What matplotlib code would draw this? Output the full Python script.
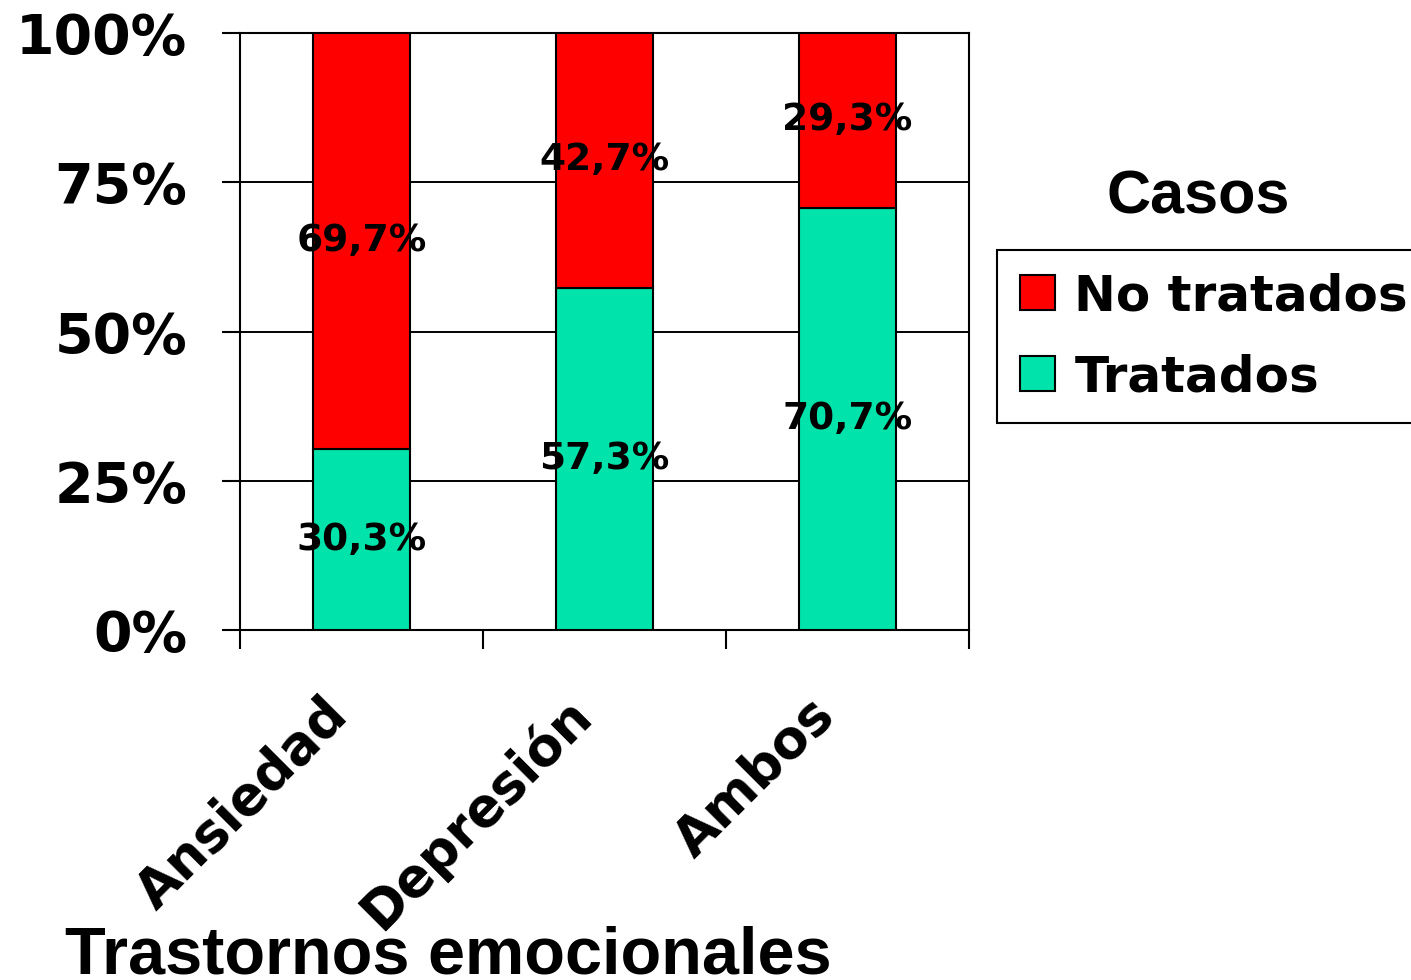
import matplotlib.pyplot as plt
import matplotlib.transforms as mtransforms
import numpy as np

# Percentage of cases treated / not treated per disorder
categories = ['Ansiedad', 'Depresión', 'Ambos']
tratados = [30.3, 57.3, 70.7]
no_tratados = [69.7, 42.7, 29.3]
y_ticks = [0, 25, 50, 75, 100]

red = '#FF0000'
green = '#00E3AA'

fig = plt.figure(figsize=(14.11, 9.8), dpi=100)
ax = fig.add_axes([240 / 1411, 1 - 630 / 980, 729 / 1411, 597 / 980])

x = np.arange(len(categories)) + 0.5
width = 0.4

b1 = ax.bar(x, tratados, width, color=green, edgecolor='black', linewidth=1.5,
            label='Tratados', zorder=3)
b2 = ax.bar(x, no_tratados, width, bottom=tratados, color=red, edgecolor='black',
            linewidth=1.5, label='No tratados', zorder=3)

# value labels centred in each segment
for xi, t, n in zip(x, tratados, no_tratados):
    ax.text(xi, t / 2, f"{t:.1f}%".replace('.', ','), ha='center', va='center',
            fontsize=27, fontweight='bold', zorder=4)
    ax.text(xi, t + n / 2, f"{n:.1f}%".replace('.', ','), ha='center', va='center',
            fontsize=27, fontweight='bold', zorder=4)

ax.set_xlim(0, len(categories))
ax.set_ylim(0, 100)

ax.set_yticks(y_ticks)
ax.set_yticklabels([f"{v}%" for v in y_ticks], fontsize=40, fontweight='bold')
ax.tick_params(axis='y', length=13, width=1.5, pad=25)
ax.yaxis.grid(True, color='black', linewidth=1.4, zorder=0)

# tick marks on category boundaries, labels at the centres
ax.set_xticks(np.arange(len(categories) + 1))
ax.set_xticklabels([])
ax.tick_params(axis='x', which='major', length=14, width=1.5)
ax.set_xticks(x, minor=True)
ax.set_xticklabels(categories, minor=True, rotation=45, ha='right', va='center',
                   rotation_mode='anchor', fontsize=38, fontweight='bold')
ax.tick_params(axis='x', which='minor', length=0, pad=55)
shift = mtransforms.ScaledTranslation(-22 / 100, 0, fig.dpi_scale_trans)
for lbl in ax.get_xticklabels(minor=True):
    lbl.set_transform(lbl.get_transform() + shift)

for s in ax.spines.values():
    s.set_linewidth(1.5)

leg = fig.legend(handles=[b2, b1], labels=['No tratados', 'Tratados'],
                 loc='upper left', bbox_to_anchor=(997 / 1411, 1 - 250 / 980),
                 borderaxespad=0, prop={'weight': 'bold', 'size': 36},
                 handlelength=0.7, handleheight=0.7, handletextpad=0.4,
                 borderpad=0.45, labelspacing=0.65, fancybox=False,
                 edgecolor='black', framealpha=1)
leg.get_frame().set_linewidth(1.5)

fig.text(1198 / 1411, 1 - 198 / 980, 'Casos', ha='center', va='center',
         family='Liberation Sans', fontsize=44, fontweight='bold')
fig.text(65 / 1411, 1 - 973 / 980, 'Trastornos emocionales', ha='left',
         va='baseline', family='Liberation Sans', fontsize=48, fontweight='bold')

fig.savefig('out.png', dpi=100)
